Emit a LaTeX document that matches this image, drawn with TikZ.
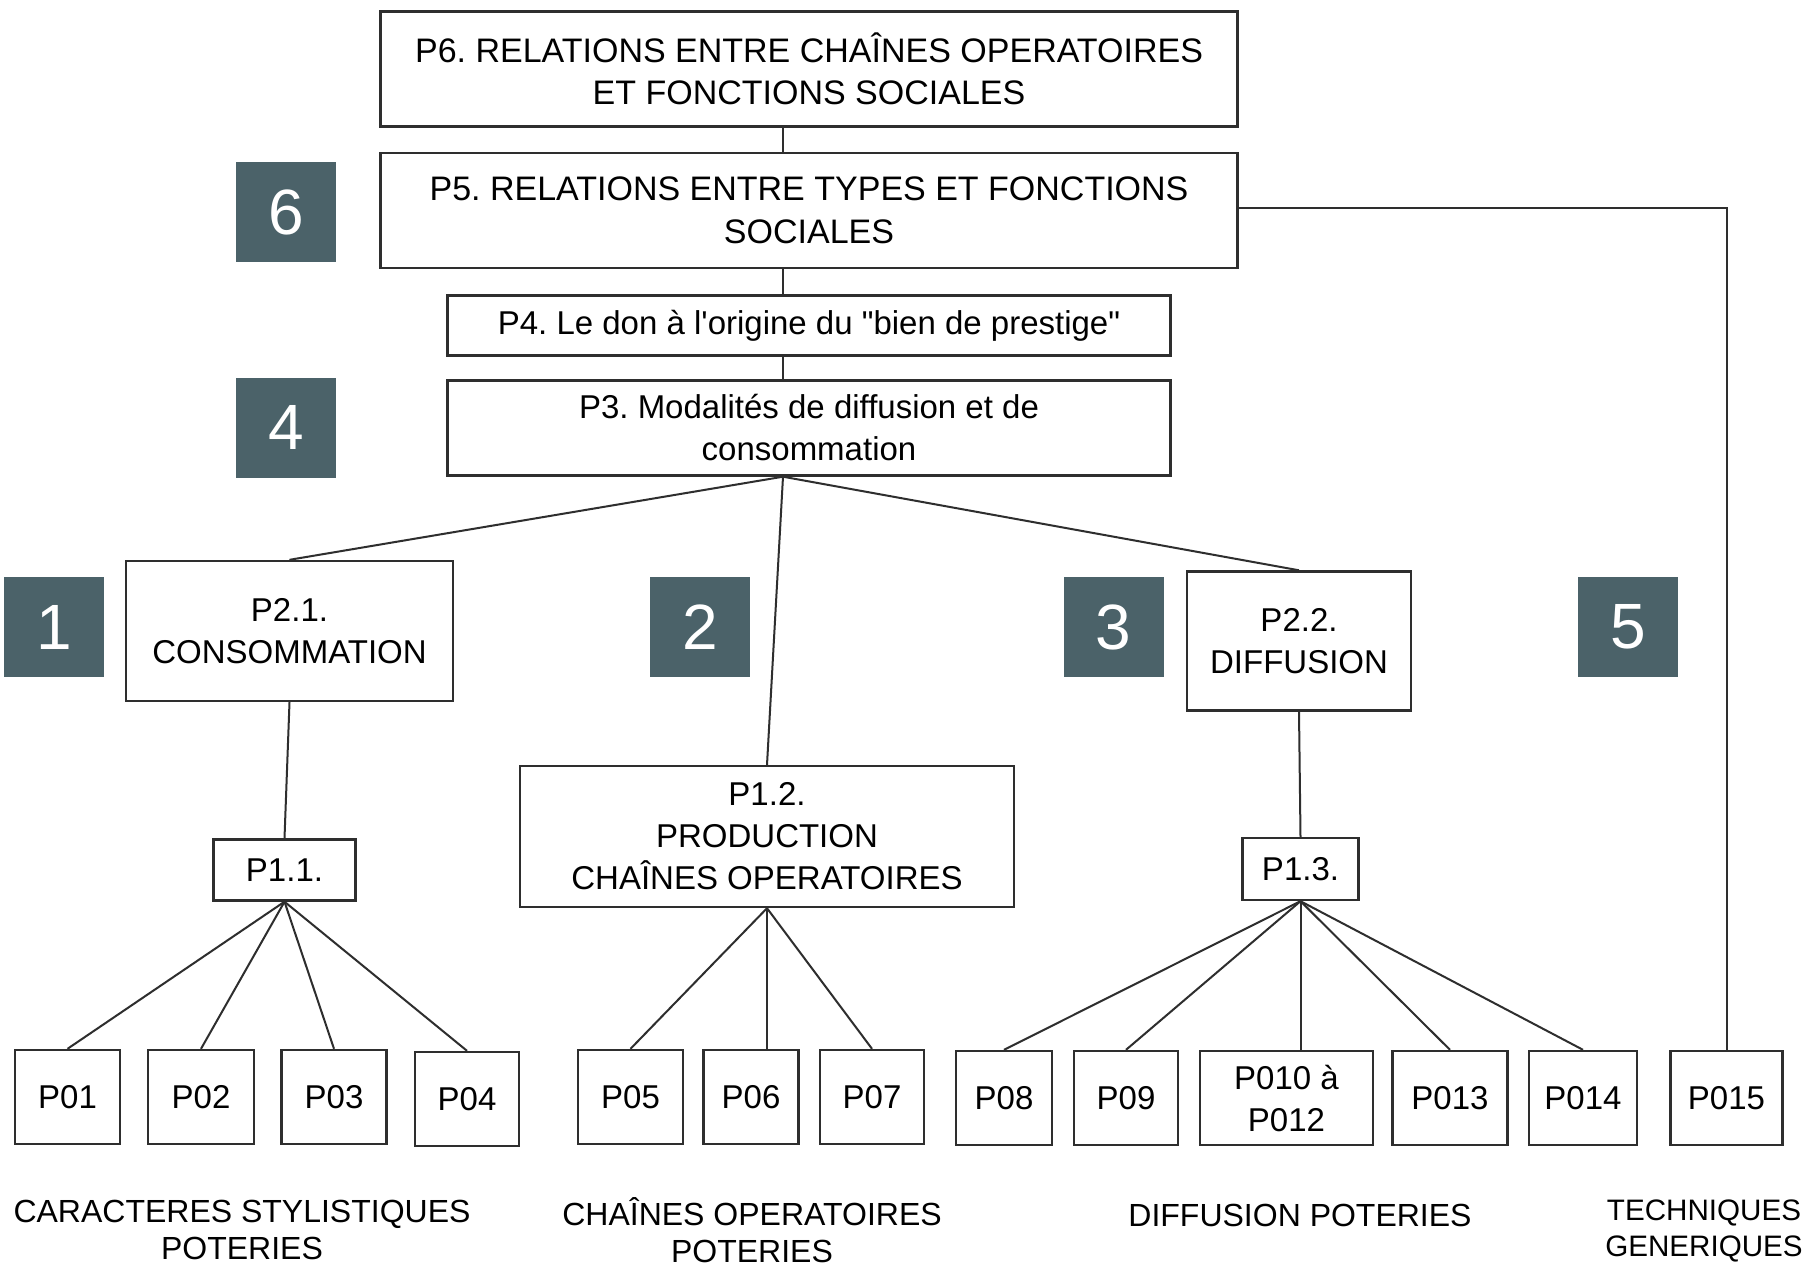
\documentclass[tikz,border=0pt]{standalone}
\usepackage{fontspec}
\setmainfont{Liberation Sans}[Ligatures=TeXOff]
\usepackage{tikz}
\definecolor{slate}{HTML}{4B6269}
\definecolor{ink}{HTML}{2E2E2E}
\frenchspacing

\begin{document}
\begin{tikzpicture}[x=0.5pt, y=-0.5pt,
  box/.style={draw=ink, line width=1.2pt, fill=white, inner sep=0pt, align=center,
    font=\fontsize{16.5}{21}\selectfont},
  dims/.style 2 args={minimum width=#1*0.5pt, minimum height=#2*0.5pt},
  num/.style={fill=slate, text=white, inner sep=0pt, minimum size=50pt,
    font=\fontsize{32}{32}\selectfont},
  legend/.style={align=center, font=\fontsize{16}{18.3}\selectfont},
  link/.style={draw=ink, line width=1pt}]

  \fill[white] (0,0) rectangle (1809,1270);
  \useasboundingbox (0,0) rectangle (1809,1270);

  % Nodes

  \node[box, dims={857}{115}, font=\fontsize{17}{21.3}\selectfont] (p6) at (809,69)
    {P6. RELATIONS ENTRE CHAÎNES OPERATOIRES\\ET FONCTIONS SOCIALES};
  \node[box, dims={857}{115}, font=\fontsize{17}{21.3}\selectfont] (p5) at (809,210.5)
    {P5. RELATIONS ENTRE TYPES ET FONCTIONS\\SOCIALES};
  \node[box, dims={723}{60}] (p4) at (809,325.5) {P4. Le don à l'origine du "bien de prestige"};
  \node[box, dims={723}{95}] (p3) at (809,428) {P3. Modalités de diffusion et de\\consommation};

  \node[box, dims={327}{140}] (p21) at (289.5,631) {P2.1.\\CONSOMMATION};
  \node[box, dims={224}{139}] (p22) at (1299,641) {P2.2.\\DIFFUSION};

  \node[box, dims={142}{61}] (p11) at (284.5,870) {P1.1.};
  \node[box, dims={494}{141}] (p12) at (767,836.5) {P1.2.\\PRODUCTION\\CHAÎNES OPERATOIRES};
  \node[box, dims={116}{62}] (p13) at (1300.5,869) {P1.3.};

  \node[box, dims={105}{94}] (p01) at (67.5,1097) {P01};
  \node[box, dims={106}{94}] (p02) at (201,1097) {P02};
  \node[box, dims={105}{94}] (p03) at (334,1097) {P03};
  \node[box, dims={104}{94}] (p04) at (467,1099) {P04};
  \node[box, dims={105}{94}] (p05) at (630.5,1097) {P05};
  \node[box, dims={95}{94}] (p06) at (751,1097) {P06};
  \node[box, dims={104}{94}] (p07) at (872,1097) {P07};
  \node[box, dims={96}{94}] (p08) at (1004,1098) {P08};
  \node[box, dims={104}{94}] (p09) at (1126,1098) {P09};
  \node[box, dims={173}{94}] (p010) at (1286.5,1098) {P010 à\\P012};
  \node[box, dims={115}{94}] (p013) at (1450,1098) {P013};
  \node[box, dims={108}{94}] (p014) at (1583,1098) {P014};
  \node[box, dims={112}{94}] (p015) at (1726.5,1098) {P015};

  \node[num] (n6) at (286,212) {6};
  \node[num] (n4) at (286,427.5) {4};
  \node[num] (n1) at (54,627) {1};
  \node[num] (n2) at (700,627) {2};
  \node[num] (n3) at (1113.5,627) {3};
  \node[num] (n5) at (1628,627) {5};

  \node[legend] (lstyle) at (242,1230) {CARACTERES STYLISTIQUES\\POTERIES};
  \node[legend] (lchaine) at (752,1230) {CHAÎNES OPERATOIRES\\POTERIES};
  \node[legend] (ldiff) at (1300,1215) {DIFFUSION POTERIES};
  \node[legend, font=\fontsize{14.8}{18.3}\selectfont] (ltech) at (1704,1231) {TECHNIQUES\\GENERIQUES};

  % Edges
  \coordinate (spine) at (783,0);
  \draw[link] (p6.south -| spine) -- (p5.north -| spine);
  \draw[link] (p5.south -| spine) -- (p4.north -| spine);
  \draw[link] (p4.south -| spine) -- (p3.north -| spine);
  \draw[link] (p3.south -| spine) -- (p21.north);
  \draw[link] (p3.south -| spine) -- (p12.north);
  \draw[link] (p3.south -| spine) -- (p22.north);
  \draw[link] ([yshift=1.4pt]p5.east) -| (p015.north);

  \draw[link] (p21.south) -- (p11.north);
  \draw[link] (p22.south) -- (p13.north);

  \foreach \leaf in {p01,p02,p03,p04}
    \draw[link] (p11.south) -- (\leaf.north);
  \draw[link] (p12.south) -- (p05.north);
  \draw[link] (p12.south) -- (p06.north -| p12.south);
  \draw[link] (p12.south) -- (p07.north);
  \foreach \leaf in {p08,p09,p013,p014}
    \draw[link] (p13.south) -- (\leaf.north);
  \draw[link] (p13.south) -- (p010.north -| p13.south);

\end{tikzpicture}
\end{document}
